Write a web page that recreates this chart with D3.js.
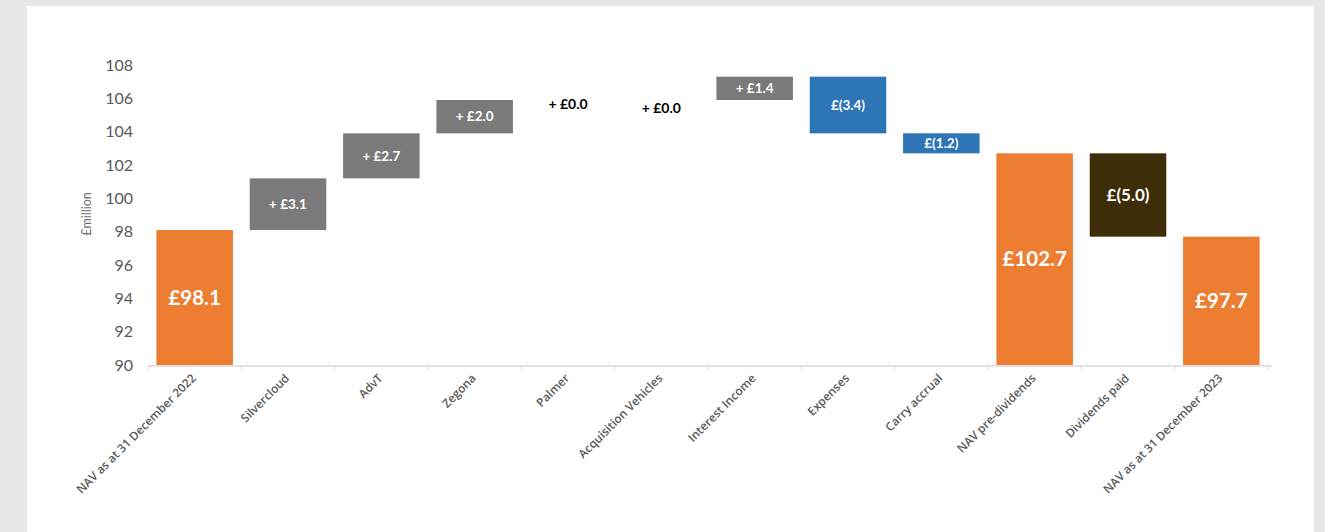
<!DOCTYPE html>
<html><head><meta charset="utf-8">
<script src="https://cdn.jsdelivr.net/npm/d3@7"></script>
<style>
html,body{margin:0;padding:0;background:#e6e7e9;}
svg{display:block;}
</style></head><body>
<svg id="c" width="1325" height="532"></svg>
<script>
const categories = ["NAV as at 31 December 2022","Silvercloud","AdvT","Zegona","Palmer","Acquisition Vehicles","Interest Income","Expenses","Carry accrual","NAV pre-dividends","Dividends paid","NAV as at 31 December 2023"];
const values = [98.1, 3.1, 2.7, 2.0, 0.0, 0.0, 1.4, -3.4, -1.2, 102.7, -5.0, 97.7];
const kinds = ["total","up","up","up","zero","zero","up","down","down","total","div","total"];
const barLabels = ["£98.1","+ £3.1","+ £2.7","+ £2.0","+ £0.0","+ £0.0","+ £1.4","£(3.4)","£(1.2)","£102.7","£(5.0)","£97.7"];
const yTicks = [90,92,94,96,98,100,102,104,106,108];

const colors = {total:"#ED7D31", up:"#7A7A7A", zero:"#7A7A7A", down:"#2E75B6", div:"#3D2D08"};
const FONT = "Lato, 'Open Sans', sans-serif";

const svg = d3.select("#c");
svg.append("rect").attr("x",27).attr("y",6).attr("width",1287).attr("height",540).attr("fill","#ffffff");

const x0 = 148, x1 = 1268;
const x = d3.scaleBand().domain(categories).range([x0,x1]).paddingInner(0.18).paddingOuter(0.09);
const y = d3.scaleLinear().domain([90,108]).range([365,65]);
const step = x.step();

let level = 0;
const bars = categories.map((c,i)=>{
  const v = values[i], k = kinds[i];
  let lo, hi;
  if (k==="total"){ lo = 90; hi = v; level = v; }
  else { const start = level; level = +(level + v).toFixed(2); lo = Math.min(start, level); hi = Math.max(start, level); }
  return {c, v, k, lo, hi, lvl: level, label: barLabels[i]};
});

const yAxis = d3.axisLeft(y).tickValues(yTicks).tickSize(0).tickPadding(0);
const gy = svg.append("g").attr("transform","translate(133,0)").call(yAxis);
gy.select(".domain").remove();
gy.selectAll("text").attr("font-family",FONT).attr("font-size",16).attr("fill","#595959");

svg.append("text").attr("transform","translate(91,214) rotate(-90)").attr("text-anchor","middle")
  .attr("font-family",FONT).attr("font-size",12.5).attr("fill","#6f6f6f").text("£million");

svg.append("g").selectAll("rect").data(bars.filter(b=>b.k!=="zero")).join("rect")
  .attr("x",d=>x(d.c)).attr("width",x.bandwidth())
  .attr("y",d=>y(d.hi)).attr("height",d=>y(d.lo)-y(d.hi))
  .attr("fill",d=>colors[d.k]);

const gx = svg.append("g");
gx.append("line").attr("x1",x0).attr("x2",x1+4).attr("y1",366).attr("y2",366).attr("stroke","#d9d9d9").attr("stroke-width",1.5);
d3.range(categories.length+1).forEach(i=>{
  const tx = x0 + i*step;
  gx.append("line").attr("x1",tx).attr("x2",tx).attr("y1",366).attr("y2",371).attr("stroke","#d9d9d9").attr("stroke-width",1);
});
gx.selectAll("text.cat").data(categories).join("text").attr("class","cat")
  .attr("transform",d=>`translate(${x(d)+x.bandwidth()/2+2},${379}) rotate(-45)`)
  .attr("text-anchor","end").attr("font-family","'Open Sans', Lato, sans-serif").attr("font-size",11.8)
  .attr("font-weight",600).attr("fill","#595959").text(d=>d);

const lab = svg.append("g").attr("font-family",FONT).attr("font-weight",700).attr("text-anchor","middle");
bars.forEach((b,i)=>{
  const cx = x(b.c)+x.bandwidth()/2;
  let cy, size, fill;
  if (b.k==="total"){ cy = (y(b.hi)+y(b.lo))/2; size = 20.5; fill="#ffffff"; }
  else if (b.k==="zero"){ cy = y(b.lvl)+ (i===4?4:8); size = 14; fill="#000000"; }
  else if (b.k==="div"){ cy = (y(b.hi)+y(b.lo))/2; size = 17; fill="#ffffff"; }
  else { cy = (y(b.hi)+y(b.lo))/2; size = 13.5; fill="#ffffff"; }
  lab.append("text").attr("x",cx).attr("y",cy).attr("dy","0.35em").attr("font-size",size).attr("fill",fill).text(b.label);
});
</script>
</body></html>
